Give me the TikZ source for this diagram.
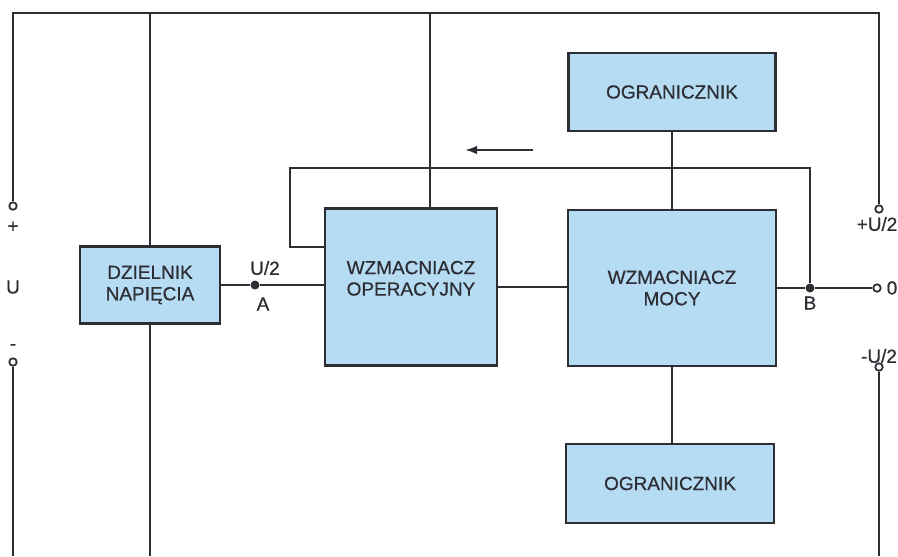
\documentclass[tikz,border=0pt]{standalone}
\usepackage{fontspec}
\setmainfont{Liberation Sans}[BoldFont=Liberation Sans,BoldFeatures={FakeBold=0.6}]
\usepackage{tikz}
\usetikzlibrary{arrows.meta,calc,positioning}
\definecolor{boxblue}{RGB}{182,220,244}
\definecolor{wire}{RGB}{45,45,52}

\begin{document}
\begin{tikzpicture}[x=0.02cm,y=-0.02cm,
    blok/.style={draw=wire,line width=1.4pt,fill=boxblue,align=center,inner sep=2pt,text=wire,font=\fontsize{10.8}{12.2}\selectfont\bfseries},
    zacisk/.style={circle,draw=wire,line width=1pt,fill=white,inner sep=0pt,minimum size=0.15cm},
    wezel/.style={circle,fill=wire,inner sep=0pt,minimum size=0.18cm},
    przewod/.style={draw=wire,line width=1.1pt},
    opis/.style={text=wire,inner sep=0pt,font=\fontsize{10.8}{12}\selectfont\bfseries}]
        \useasboundingbox (0,0) rectangle (898,556);
        % Draw the blocks
        \node[blok,minimum width=2.8cm,minimum height=1.54cm] (dziel) at (150,285) {DZIELNIK\\NAPIĘCIA};
        \node[blok,minimum width=3.44cm,minimum height=3.14cm,text depth=10pt] (opamp) at (411,287) {WZMACNIACZ\\OPERACYJNY};
        \node[blok,minimum width=4.16cm,minimum height=3.12cm] (moc) at (672,288) {WZMACNIACZ\\MOCY};
        \node[blok,minimum width=4.14cm,minimum height=1.56cm] (ogrg) at (672,92) {OGRANICZNIK};
        \node[blok,minimum width=4.16cm,minimum height=1.58cm] (ogrd) at (670,483.5) {OGRANICZNIK};
        %terminals and junctions
        \node[zacisk] (plus) at (13,206) {};
        \node[zacisk] (minus) at (13,362) {};
        \node[zacisk] (pu) at (879,209) {};
        \node[zacisk] (mu) at (879,367) {};
        \node[zacisk] (zero) at (877,288) {};
        \node[wezel] (A) at (255,285) {};
        \node[wezel] (B) at (810,288) {};
        \coordinate (rog) at (13,13);
        \coordinate (dol) at (0,556);
        \coordinate (odczep) at (430,13);
        \coordinate (petla) at (290,168);
        \coordinate (wejscie) at (0,247);
        \coordinate (strz1) at (533,150);
        \coordinate (strz2) at (465,150);
        % supply lines
        \draw[przewod] (plus) -- (rog) -| (pu);
        \draw[przewod] (minus) -- (minus |- dol);
        \draw[przewod] (mu) -- (mu |- dol);
        \draw[przewod] (dziel.north) -- (dziel.north |- rog);
        \draw[przewod] (dziel.south) -- (dziel.south |- dol);
        \draw[przewod] (odczep) -- (odczep |- opamp.north);
        % signal path
        \draw[przewod] (dziel.east |- A) -- (A) -- (A -| opamp.west);
        \draw[przewod] (opamp.east) -- (opamp.east -| moc.west);
        \draw[przewod] (moc.east |- B) -- (B) -- (zero);
        \draw[przewod] (wejscie -| opamp.west) -| (petla) -| (B);
        \draw[przewod,-{Latex[length=0.24cm,width=0.17cm]}] (strz1) -- (strz2);
        % limiters
        \draw[przewod] (ogrg.south) -- (ogrg.south |- moc.north);
        \draw[przewod] (moc.south) -- (moc.south |- ogrd.north);
        % labels
        \node[opis] (lplus) at (13,227) {+};
        \node[opis] (lU) at (13,287) {U};
        \node[opis] (lminus) at (13,347) {-};
        \node[opis] (lpu) at (877,224) {+U/2};
        \node[opis] (lmu) at (879,356) {-U/2};
        \node[opis] (lzero) at (892,288) {0};
        \node[opis] (lhalf) at (265,268) {U/2};
        \node[opis] (lA) at (263,304) {A};
        \node[opis] (lB) at (810,303) {B};
\end{tikzpicture}
\end{document}
